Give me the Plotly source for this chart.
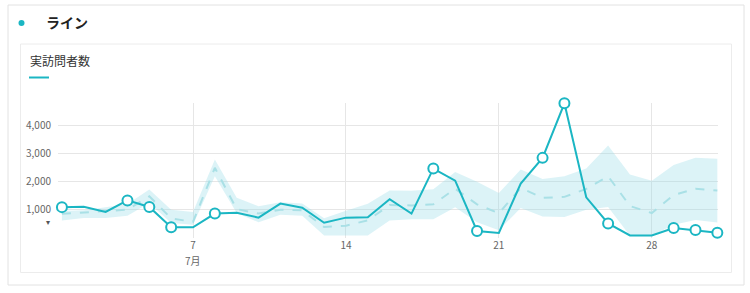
import plotly.graph_objects as go

days = list(range(1, 32))
visitors = [1100, 1110, 930, 1340, 1107, 380, 380, 870, 900, 725, 1225, 1080, 545, 725, 735,
            1380, 870, 2475, 2045, 250, 180, 1940, 2855, 4800, 1450, 520, 90, 90, 355, 285, 190]
expected = [860, 900, 960, 1010, 1485, 700, 575, 2500, 1030, 870, 1010, 985, 390, 440, 630,
            1175, 1160, 1200, 1755, 1200, 880, 1785, 1430, 1465, 1750, 2200, 1140, 890, 1530, 1755, 1690]
upper = [960, 990, 1100, 1215, 1725, 1010, 930, 2795, 1430, 1130, 1270, 1225, 700, 975, 1220,
         1695, 1680, 1735, 2350, 2000, 1600, 2440, 2105, 2200, 2475, 3300, 2260, 2040, 2600, 2855, 2820]
lower = [620, 715, 715, 795, 1250, 535, 470, 2200, 890, 560, 830, 795, 90, 95, 90,
         620, 670, 670, 1100, 560, 280, 1070, 770, 750, 1010, 1105, 80, 80, 475, 640, 550]
anomaly_days = [1, 4, 5, 6, 8, 18, 20, 23, 24, 26, 29, 30, 31]
x_tick_vals = [7, 14, 21, 28]
x_tick_text = ["7", "14", "21", "28"]
month_label = "7月"
month_day = 7
y_tick_vals = [1000, 2000, 3000, 4000]
y_tick_text = ["1,000", "2,000", "3,000", "4,000"]

TEAL = "#1bb6c3"
FONT = "Noto Sans CJK JP"

W, H = 750, 293
ML, MR, MT, MB = 58, 32, 103, 55
PW = W - ML - MR
PH = H - MT - MB


def px(x):
    return (x - ML) / PW


def py(y):
    return (H - MB - y) / PH


fig = go.Figure()
fig.add_trace(go.Scatter(x=days, y=lower, mode="lines", line=dict(width=0),
                         hoverinfo="skip", showlegend=False))
fig.add_trace(go.Scatter(x=days, y=upper, mode="lines", line=dict(width=0),
                         fill="tonexty", fillcolor="rgba(150,220,230,0.33)",
                         hoverinfo="skip", showlegend=False))
fig.add_trace(go.Scatter(x=days, y=expected, mode="lines",
                         line=dict(color="#a9e0e6", width=2, dash="dash"),
                         showlegend=False))
fig.add_trace(go.Scatter(x=days, y=visitors, mode="lines",
                         line=dict(color=TEAL, width=2), showlegend=False,
                         cliponaxis=False))
fig.add_trace(go.Scatter(x=anomaly_days, y=[visitors[d - 1] for d in anomaly_days],
                         mode="markers", cliponaxis=False,
                         marker=dict(size=10, color="white", line=dict(color=TEAL, width=2)),
                         showlegend=False))

shapes = [
    dict(type="rect", xref="paper", yref="paper", x0=px(8), x1=px(744), y0=py(285), y1=py(5),
         line=dict(color="#e2e2e2", width=1), fillcolor="white", layer="below"),
    dict(type="rect", xref="paper", yref="paper", x0=px(20.5), x1=px(731.5), y0=py(272.5), y1=py(44),
         line=dict(color="#ececec", width=1), fillcolor="white", layer="below"),
    dict(type="line", xref="paper", yref="paper", x0=px(29), x1=px(49), y0=py(77.5), y1=py(77.5),
         line=dict(color=TEAL, width=2)),
    dict(type="circle", xref="paper", yref="paper", x0=px(18.5), x1=px(24.5), y0=py(26), y1=py(20),
         line=dict(color=TEAL, width=0), fillcolor=TEAL),
]

annotations = [
    dict(text="<b>ライン</b>", xref="paper", yref="paper", x=px(44), y=py(22), xanchor="left",
         yanchor="middle", showarrow=False, font=dict(family=FONT, size=14, color="#222")),
    dict(text="実訪問者数", xref="paper", yref="paper", x=px(28), y=py(60), xanchor="left",
         yanchor="middle", showarrow=False, font=dict(family=FONT, size=12, color="#333")),
    dict(text="▾", xref="paper", yref="paper", x=px(48), y=py(221), xanchor="center",
         yanchor="middle", showarrow=False, font=dict(family=FONT, size=8, color="#555")),
    dict(text=month_label, xref="x", yref="paper", x=month_day, y=py(251), xanchor="center",
         yanchor="top", showarrow=False, font=dict(family=FONT, size=10, color="#666")),
]

fig.update_layout(
    width=W, height=H,
    margin=dict(l=ML, r=MR, t=MT, b=MB),
    paper_bgcolor="white", plot_bgcolor="rgba(0,0,0,0)",
    shapes=shapes, annotations=annotations,
    font=dict(family=FONT, size=10, color="#666"),
    xaxis=dict(range=[0.82, 31.03], tickvals=x_tick_vals, ticktext=x_tick_text,
               showgrid=True, gridcolor="#e6e6e6", gridwidth=1, zeroline=False,
               showline=False, ticks="", tickfont=dict(size=10, color="#666")),
    yaxis=dict(range=[0, 4810], tickvals=y_tick_vals, ticktext=y_tick_text,
               showgrid=True, gridcolor="#e6e6e6", gridwidth=1, zeroline=False,
               showline=False, ticks="outside", ticklen=4, tickcolor="rgba(0,0,0,0)",
               tickfont=dict(size=10, color="#666")),
    hovermode=False,
)

fig.write_html("out.html")
